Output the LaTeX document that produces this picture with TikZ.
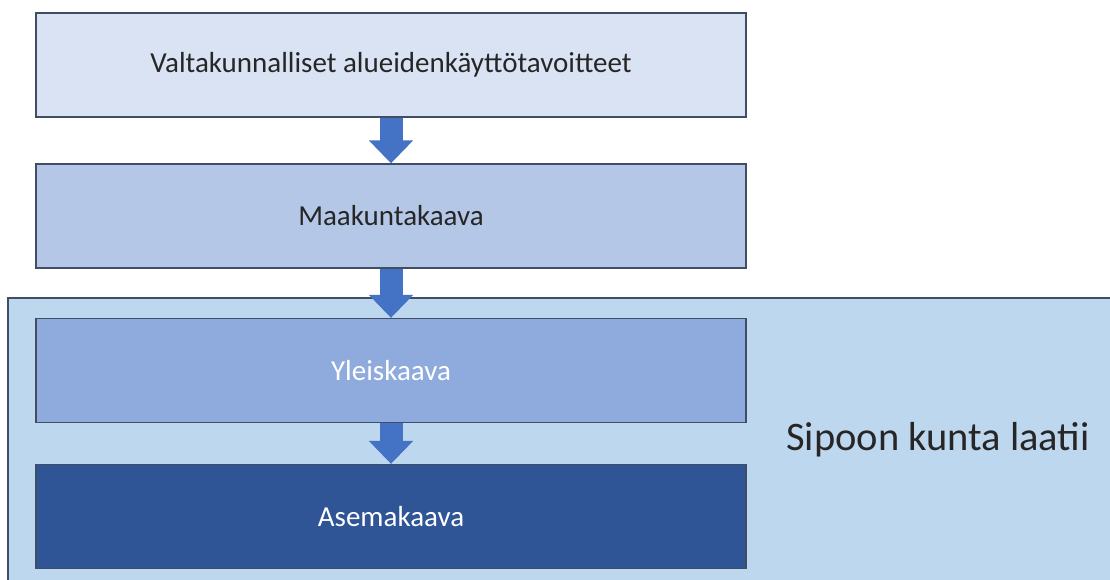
\documentclass[tikz,border=0pt]{standalone}
\usepackage{fontspec}
\setmainfont{Carlito}
\usetikzlibrary{arrows.meta}
\definecolor{valtac}{HTML}{DAE3F3}
\definecolor{maakc}{HTML}{B4C7E7}
\definecolor{yleisc}{HTML}{8FAADC}
\definecolor{asemac}{HTML}{2F5597}
\definecolor{kuntac}{HTML}{BDD7EE}
\definecolor{reunac}{HTML}{3F4E63}
\definecolor{nuolic}{HTML}{4472C4}
\begin{document}
\begin{tikzpicture}[x=1pt,y=-1pt,
  kaava/.style={rectangle, draw=reunac, line width=1.3pt, minimum width=710pt, minimum height=104pt, inner sep=0pt, font=\fontsize{29}{34}\selectfont},
  nuoli/.style={draw=nuolic, line width=23pt, -{Triangle[width=43pt,length=23pt]}}]
\useasboundingbox (0,0) rectangle (1110,580);
\filldraw[fill=kuntac, draw=reunac, line width=1.3pt] (8,298) rectangle (1130,600);
\node[font=\fontsize{40.5}{46}\selectfont, text=black!85] (kunta) at (938,440){Sipoon kunta laatii};
\node[kaava, fill=valtac, text=black!85] (valta) at (391,65){Valtakunnalliset alueidenkäyttötavoitteet};
\node[kaava, fill=maakc, text=black!85] (maak) at (391,216){Maakuntakaava};
\node[kaava, fill=yleisc, text=white] (yleis) at (391,370.5){Yleiskaava};
\node[kaava, fill=asemac, text=white] (asema) at (391,516.5){Asemakaava};
\draw[nuoli](valta) -- (maak);
\draw[nuoli](maak) -- (yleis);
\draw[nuoli](yleis) -- (asema);
\end{tikzpicture}
\end{document}
